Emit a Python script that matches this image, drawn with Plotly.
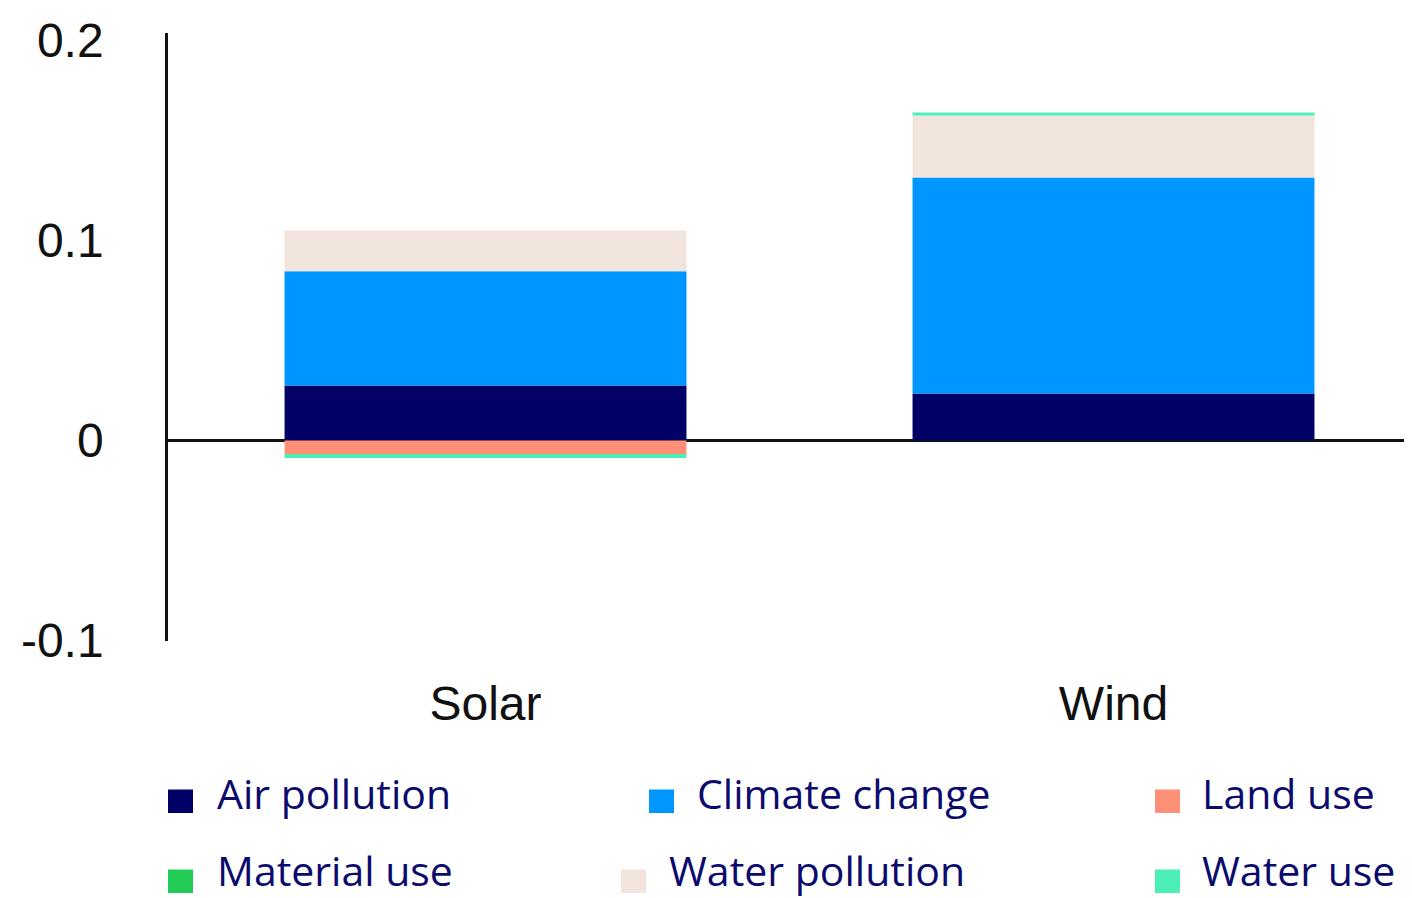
import plotly.graph_objects as go

categories = ["Solar", "Wind"]
series_names = ["Air pollution", "Climate change", "Land use",
                "Material use", "Water pollution", "Water use"]
air_pollution = [0.0274, 0.0234]
climate_change = [0.0572, 0.1080]
land_use = [-0.0068, 0.0]
material_use = [0.0, 0.0]
water_pollution = [0.0204, 0.0310]
water_use = [-0.0020, 0.0015]
y_tick_vals = [-0.1, 0, 0.1, 0.2]
y_tick_text = ["-0.1", "0", "0.1", "0.2"]

values = [air_pollution, climate_change, land_use, material_use,
          water_pollution, water_use]
colors = ["#000066", "#0096FF", "#FF8F76", "#22CC55", "#F0E4DC", "#4DEEB5"]

OFF = 8  # page body margin of the browser
W, H = 1412 - OFF, 898 - OFF
L, R, T = 168 - OFF, 0, 33 - OFF
PLOT_BOTTOM = 641 - OFF
B = H - PLOT_BOTTOM
pw, ph = W - L - R, H - T - B

fig = go.Figure()
for name, vals, col in zip(series_names, values, colors):
    fig.add_trace(go.Bar(x=categories, y=vals, name=name,
                         marker=dict(color=col, line=dict(width=0)),
                         width=0.64, showlegend=False))

def px_x(p):
    return (p - OFF - L) / pw

def px_y(p):
    return (H - B - (p - OFF)) / ph

# manual legend (screen pixel positions: marker left, text left, row centre, text centre)
legend_pos = [(168, 215, 797, 793), (649, 695, 797, 793), (1155, 1200, 797, 793),
              (168, 215, 877, 870), (621, 667, 877, 870), (1155, 1200, 877, 870)]
shapes = []
annotations = []
for name, col, (mx, tx, cy, ty) in zip(series_names, colors, legend_pos):
    shapes.append(dict(type="rect", xref="paper", yref="paper",
                       x0=px_x(mx), x1=px_x(mx + 25),
                       y0=px_y(cy + 16), y1=px_y(cy - 7.5),
                       fillcolor=col, line=dict(width=0)))
    annotations.append(dict(text=name, xref="paper", yref="paper",
                            x=px_x(tx), y=px_y(ty), xanchor="left",
                            yanchor="middle", showarrow=False,
                            font=dict(family="Open Sans", size=41, color="#0B0B6E")))

fig.update_layout(
    barmode="relative",
    width=W, height=H,
    margin=dict(l=L, r=R, t=T, b=B, pad=0),
    paper_bgcolor="white", plot_bgcolor="white",
    font=dict(family="Liberation Sans", color="#111111"),
    shapes=shapes, annotations=annotations,
    xaxis=dict(range=[-0.5056, 1.4753], showgrid=False, showline=False,
               zeroline=False, ticks="", tickfont=dict(size=48, color="#111111"),
               ticklabelstandoff=30),
    yaxis=dict(range=[-0.1003, 0.2037], tickvals=y_tick_vals, ticktext=y_tick_text,
               showgrid=False, zeroline=True, zerolinecolor="#111111",
               zerolinewidth=3, showline=True, linecolor="#111111", linewidth=2.5,
               ticks="", tickfont=dict(size=48, color="#111111"),
               ticklabelstandoff=52),
)

fig.write_html("out.html")
